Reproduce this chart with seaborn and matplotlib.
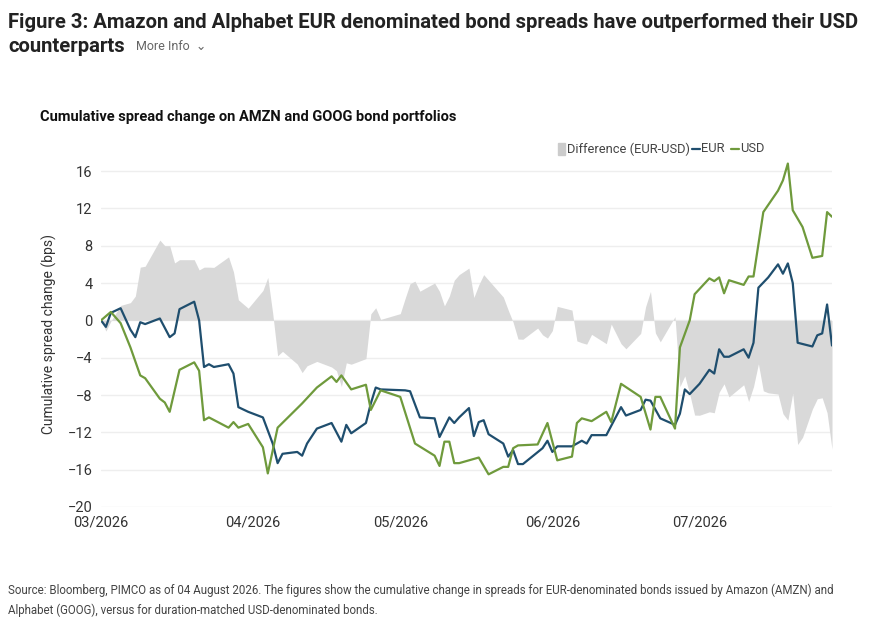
import numpy as np
import pandas as pd
import matplotlib
matplotlib.use("Agg")
import matplotlib.pyplot as plt
import seaborn as sns

sns.set_theme(style="white")
plt.rcParams['font.family'] = ['Roboto', 'DejaVu Sans']

# day offset from 2026-03-01
eur_day = [0,1,2,4,6,7,8,9,12,14,15,16,19,20,21,22,23,26,27,28,30,33,35,36,37,40,41,42,44,47,49,50,51,54,55,56,57,62,63,65,68,69,71,72,73,75,76,77,78,79,82,83,84,85,86,90,91,92,93,96,98,99,100,103,106,107,110,111,112,114,117,118,119,120,122,124,125,126,127,128,131,132,133,134,136,138,139,140,141,142,145,146,147,148,149]
eur_val = [0,-0.7,0.8,1.3,-1,-1.8,-0.2,-0.4,0.2,-1.8,-1.4,1.2,2,0,-5,-4.7,-5,-4.7,-5.7,-9.3,-9.8,-10.4,-13.2,-15.3,-14.3,-14.1,-14.5,-13.2,-11.6,-11,-13,-11.2,-12.1,-11,-8.9,-7.2,-7.4,-7.5,-7.6,-10.4,-10.5,-12.5,-10.4,-11,-10.4,-9.4,-12.4,-10.9,-10.7,-12.2,-13.2,-14.6,-13.9,-15.4,-15.4,-13.7,-12.9,-14.1,-13.5,-13.5,-12.9,-13.2,-12.3,-12.3,-9.3,-10.2,-9.6,-8.5,-8.6,-10.5,-11.2,-10,-7.4,-7.9,-6.8,-5.3,-5.7,-3.1,-3.9,-3.9,-3.1,-4,-2.4,3.5,4.6,6,5,6.1,4,-2.4,-2.8,-1.6,-1.4,1.7,-2.7]
usd_day = [0,2,4,6,8,9,12,13,14,16,19,20,21,22,26,27,28,30,33,34,36,41,44,47,48,49,51,54,55,57,61,64,68,69,70,71,72,73,77,79,82,83,84,85,89,91,93,96,97,98,100,103,104,106,110,112,113,114,117,118,120,121,124,125,126,127,128,131,132,133,135,138,139,140,141,143,145,147,148,149]
usd_val = [0,0.9,-0.3,-2.9,-5.9,-6.2,-8.4,-8.8,-9.8,-5.3,-4.5,-5.4,-10.7,-10.4,-11.5,-10.9,-11.5,-11.1,-13.6,-16.4,-11.5,-8.9,-7.2,-6,-6.6,-5.9,-7.4,-6.9,-9.6,-7.5,-8.2,-13.2,-14.5,-15.6,-13,-13,-15.3,-15.3,-14.7,-16.5,-15.7,-15.7,-13.7,-13.4,-13.3,-11,-15,-14.6,-11,-10.5,-10.8,-9.8,-10.9,-6.8,-8.2,-11.7,-8.2,-8.2,-11.6,-2.9,0,2.8,4.5,4.2,4.6,2.9,4.3,3.8,4.7,4.7,11.6,13.9,15,16.8,11.8,10,6.7,6.9,11.6,11.1]
month_ticks = [0, 31, 61, 92, 122]
month_labels = ["03/2026", "04/2026", "05/2026", "06/2026", "07/2026"]
y_ticks = list(range(-20, 17, 4))

grid = np.union1d(eur_day, usd_day)
diff = np.interp(grid, eur_day, eur_val) - np.interp(grid, usd_day, usd_val)

fig = plt.figure(figsize=(8.75, 6.2), dpi=100)
ax = fig.add_axes([101/875, 1-507/620, 731/875, (507-161.7)/620])

ax.fill_between(grid, 0, diff, color="#d9d9d9", lw=0, zorder=1)
df = pd.concat([pd.DataFrame({"day": eur_day, "v": eur_val, "s": "EUR"}),
                pd.DataFrame({"day": usd_day, "v": usd_val, "s": "USD"})])
sns.lineplot(data=df, x="day", y="v", hue="s", palette={"EUR": "#1f4e6e", "USD": "#6f9a3c"},
             lw=1.6, ax=ax, legend=False, zorder=3)

ax.set_xlim(0, 149)
ax.set_ylim(-20, 17)
ax.set_yticks(y_ticks)
ax.set_xticks(month_ticks)
ax.set_xticklabels(month_labels)
ax.tick_params(axis="both", labelsize=10.5, colors="#333333", length=0, pad=6)
ax.yaxis.grid(True, color="#eeeeee", lw=1)
ax.set_axisbelow(True)
for s in ax.spines.values():
    s.set_visible(False)
ax.set_xlabel("")
ax.set_ylabel("Cumulative spread change (bps)", fontsize=10, color="#333333", labelpad=8)

fig.text(8/875, 1-22/620, "Figure 3: Amazon and Alphabet EUR denominated bond spreads have outperformed their USD",
         fontsize=14.6, fontweight="bold", color="#222222", va="center")
fig.text(8/875, 1-47/620, "counterparts", fontsize=14.6, fontweight="bold", color="#222222", va="center")
fig.text(136/875, 1-47/620, "More Info  \u2304", fontsize=9, color="#666666", va="center")
fig.text(40/875, 1-117/620, "Cumulative spread change on AMZN and GOOG bond portfolios",
         fontsize=10.5, fontweight="bold", color="#111111", va="center")

lx = 558/875; ly = 1-149/620
fig.patches.append(plt.Rectangle((lx, ly-0.009), 0.008, 0.018, color="#cccccc", transform=fig.transFigure))
fig.text(lx+0.01, ly, "Difference (EUR-USD)", fontsize=9.3, color="#444444", va="center")
fig.lines.append(plt.Line2D([692/875, 700/875], [ly, ly], color="#1f4e6e", lw=1.6, transform=fig.transFigure))
fig.text(701/875, ly, "EUR", fontsize=9.3, color="#444444", va="center")
fig.lines.append(plt.Line2D([731/875, 739/875], [ly, ly], color="#6f9a3c", lw=1.6, transform=fig.transFigure))
fig.text(740/875, ly, "USD", fontsize=9.3, color="#444444", va="center")

fig.text(8/875, 1-590/620, "Source: Bloomberg, PIMCO as of 04 August 2026. The figures show the cumulative change in spreads for EUR-denominated bonds issued by Amazon (AMZN) and",
         fontsize=8.3, color="#444444", va="center")
fig.text(8/875, 1-610/620, "Alphabet (GOOG), versus for duration-matched USD-denominated bonds.",
         fontsize=8.3, color="#444444", va="center")

fig.savefig("out.png", dpi=100)
